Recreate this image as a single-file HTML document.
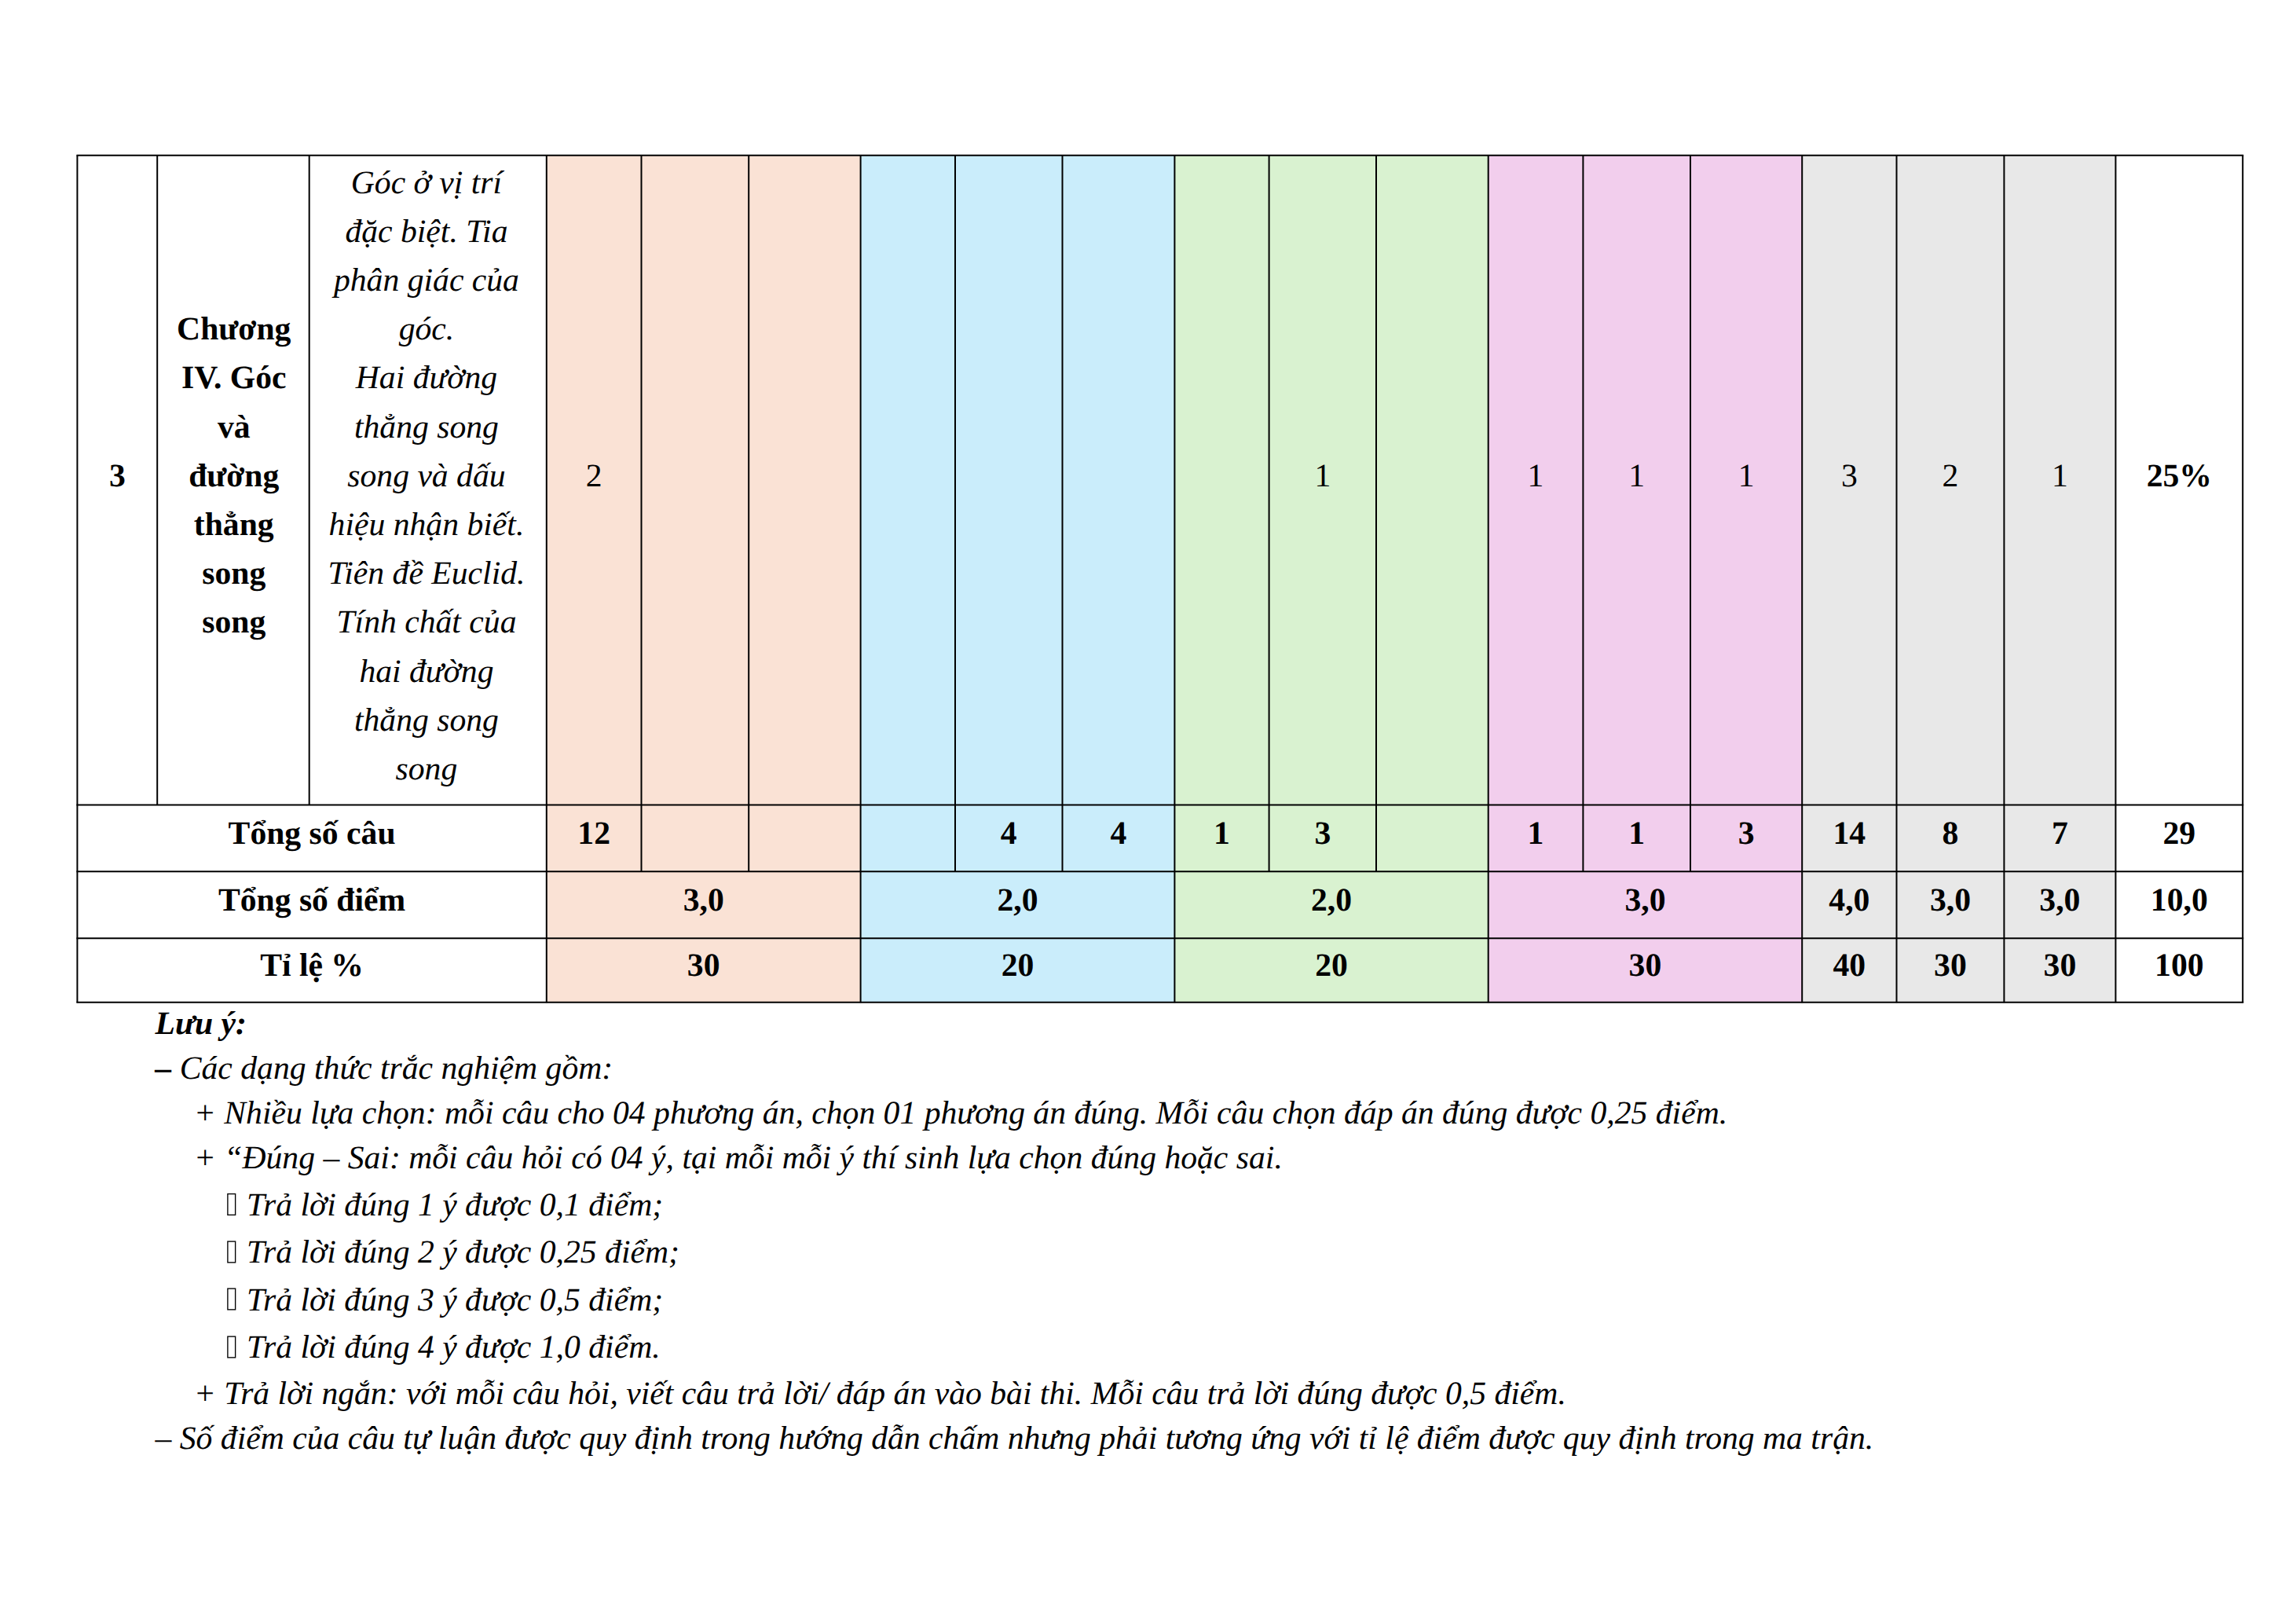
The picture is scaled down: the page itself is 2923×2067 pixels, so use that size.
<!DOCTYPE html>
<html lang="vi"><head><meta charset="utf-8"><title>Ma trận</title>
<style>
html,body{margin:0;padding:0;background:#fff;}
body{width:2923px;height:2067px;position:relative;overflow:hidden;text-rendering:geometricPrecision;font-family:"Liberation Serif",serif;font-size:41.667px;color:#000;}
svg{position:absolute;left:0;top:0;}
.t{position:absolute;white-space:nowrap;margin:0;padding:0;}
.c{text-align:center;}
.b{font-weight:bold;}
.i{font-style:italic;}
</style></head><body>

<svg width="2923" height="2067" viewBox="0 0 2923 2067">
<rect x="695.80" y="197.85" width="399.80" height="1077.90" fill="#FAE2D5"/>
<rect x="1095.60" y="197.85" width="399.80" height="1077.90" fill="#CAEDFB"/>
<rect x="1495.40" y="197.85" width="399.30" height="1077.90" fill="#D9F2D0"/>
<rect x="1894.70" y="197.85" width="399.50" height="1077.90" fill="#F2CEED"/>
<rect x="2294.20" y="197.85" width="399.20" height="1077.90" fill="#E8E8E8"/>
<g stroke="#000" stroke-width="2.00" stroke-linecap="butt" fill="none">
<line x1="97.40" y1="197.85" x2="2856.20" y2="197.85"/>
<line x1="97.40" y1="1024.50" x2="2856.20" y2="1024.50"/>
<line x1="97.40" y1="1109.25" x2="2856.20" y2="1109.25"/>
<line x1="97.40" y1="1194.25" x2="2856.20" y2="1194.25"/>
<line x1="97.40" y1="1275.75" x2="2856.20" y2="1275.75"/>
<line x1="98.40" y1="197.85" x2="98.40" y2="1276.35"/>
<line x1="200.20" y1="197.85" x2="200.20" y2="1025.10"/>
<line x1="393.70" y1="197.85" x2="393.70" y2="1025.10"/>
<line x1="695.80" y1="197.85" x2="695.80" y2="1276.35"/>
<line x1="816.50" y1="197.85" x2="816.50" y2="1109.85"/>
<line x1="953.20" y1="197.85" x2="953.20" y2="1109.85"/>
<line x1="1095.60" y1="197.85" x2="1095.60" y2="1276.35"/>
<line x1="1216.00" y1="197.85" x2="1216.00" y2="1109.85"/>
<line x1="1352.50" y1="197.85" x2="1352.50" y2="1109.85"/>
<line x1="1495.40" y1="197.85" x2="1495.40" y2="1276.35"/>
<line x1="1615.60" y1="197.85" x2="1615.60" y2="1109.85"/>
<line x1="1752.00" y1="197.85" x2="1752.00" y2="1109.85"/>
<line x1="1894.70" y1="197.85" x2="1894.70" y2="1276.35"/>
<line x1="2015.40" y1="197.85" x2="2015.40" y2="1109.85"/>
<line x1="2152.00" y1="197.85" x2="2152.00" y2="1109.85"/>
<line x1="2294.20" y1="197.85" x2="2294.20" y2="1276.35"/>
<line x1="2414.50" y1="197.85" x2="2414.50" y2="1276.35"/>
<line x1="2551.40" y1="197.85" x2="2551.40" y2="1276.35"/>
<line x1="2693.40" y1="197.85" x2="2693.40" y2="1276.35"/>
<line x1="2855.20" y1="197.85" x2="2855.20" y2="1276.35"/>
</g></svg>
<div class="t c b" style="left:98.40px;width:101.80px;top:576.00px;line-height:60px">3</div>
<div class="t c b" style="left:201.00px;width:193.50px;top:389.00px;line-height:60px">Chương</div>
<div class="t c b" style="left:201.00px;width:193.50px;top:451.00px;line-height:60px">IV. Góc</div>
<div class="t c b" style="left:201.00px;width:193.50px;top:514.00px;line-height:60px">và</div>
<div class="t c b" style="left:201.00px;width:193.50px;top:576.00px;line-height:60px">đường</div>
<div class="t c b" style="left:201.00px;width:193.50px;top:638.00px;line-height:60px">thẳng</div>
<div class="t c b" style="left:201.00px;width:193.50px;top:700.00px;line-height:60px">song</div>
<div class="t c b" style="left:201.00px;width:193.50px;top:762.00px;line-height:60px">song</div>
<div class="t c i" style="left:391.90px;width:302.10px;top:203.00px;line-height:60px">Góc ở vị trí</div>
<div class="t c i" style="left:391.90px;width:302.10px;top:265.00px;line-height:60px">đặc biệt. Tia</div>
<div class="t c i" style="left:391.90px;width:302.10px;top:327.00px;line-height:60px">phân giác của</div>
<div class="t c i" style="left:391.90px;width:302.10px;top:389.00px;line-height:60px">góc.</div>
<div class="t c i" style="left:391.90px;width:302.10px;top:451.00px;line-height:60px">Hai đường</div>
<div class="t c i" style="left:391.90px;width:302.10px;top:514.00px;line-height:60px">thẳng song</div>
<div class="t c i" style="left:391.90px;width:302.10px;top:576.00px;line-height:60px">song và dấu</div>
<div class="t c i" style="left:391.90px;width:302.10px;top:638.00px;line-height:60px">hiệu nhận biết.</div>
<div class="t c i" style="left:391.90px;width:302.10px;top:700.00px;line-height:60px">Tiên đề Euclid.</div>
<div class="t c i" style="left:391.90px;width:302.10px;top:762.00px;line-height:60px">Tính chất của</div>
<div class="t c i" style="left:391.90px;width:302.10px;top:825.00px;line-height:60px">hai đường</div>
<div class="t c i" style="left:391.90px;width:302.10px;top:887.00px;line-height:60px">thẳng song</div>
<div class="t c i" style="left:391.90px;width:302.10px;top:949.00px;line-height:60px">song</div>
<div class="t c " style="left:695.80px;width:120.70px;top:576.00px;line-height:60px">2</div>
<div class="t c " style="left:1615.60px;width:136.40px;top:576.00px;line-height:60px">1</div>
<div class="t c " style="left:1894.70px;width:120.70px;top:576.00px;line-height:60px">1</div>
<div class="t c " style="left:2015.40px;width:136.60px;top:576.00px;line-height:60px">1</div>
<div class="t c " style="left:2152.00px;width:142.20px;top:576.00px;line-height:60px">1</div>
<div class="t c " style="left:2294.20px;width:120.30px;top:576.00px;line-height:60px">3</div>
<div class="t c " style="left:2414.50px;width:136.90px;top:576.00px;line-height:60px">2</div>
<div class="t c " style="left:2551.40px;width:142.00px;top:576.00px;line-height:60px">1</div>
<div class="t c b" style="left:2693.40px;width:161.80px;top:576.00px;line-height:60px">25%</div>
<div class="t c b" style="left:98.40px;width:597.40px;top:1031.00px;line-height:60px">Tổng số câu</div>
<div class="t c b" style="left:695.80px;width:120.70px;top:1031.00px;line-height:60px">12</div>
<div class="t c b" style="left:1216.00px;width:136.50px;top:1031.00px;line-height:60px">4</div>
<div class="t c b" style="left:1352.50px;width:142.90px;top:1031.00px;line-height:60px">4</div>
<div class="t c b" style="left:1495.40px;width:120.20px;top:1031.00px;line-height:60px">1</div>
<div class="t c b" style="left:1615.60px;width:136.40px;top:1031.00px;line-height:60px">3</div>
<div class="t c b" style="left:1894.70px;width:120.70px;top:1031.00px;line-height:60px">1</div>
<div class="t c b" style="left:2015.40px;width:136.60px;top:1031.00px;line-height:60px">1</div>
<div class="t c b" style="left:2152.00px;width:142.20px;top:1031.00px;line-height:60px">3</div>
<div class="t c b" style="left:2294.20px;width:120.30px;top:1031.00px;line-height:60px">14</div>
<div class="t c b" style="left:2414.50px;width:136.90px;top:1031.00px;line-height:60px">8</div>
<div class="t c b" style="left:2551.40px;width:142.00px;top:1031.00px;line-height:60px">7</div>
<div class="t c b" style="left:2693.40px;width:161.80px;top:1031.00px;line-height:60px">29</div>
<div class="t c b" style="left:98.40px;width:597.40px;top:1116.00px;line-height:60px">Tổng số điểm</div>
<div class="t c b" style="left:695.80px;width:399.80px;top:1116.00px;line-height:60px">3,0</div>
<div class="t c b" style="left:1095.60px;width:399.80px;top:1116.00px;line-height:60px">2,0</div>
<div class="t c b" style="left:1495.40px;width:399.30px;top:1116.00px;line-height:60px">2,0</div>
<div class="t c b" style="left:1894.70px;width:399.50px;top:1116.00px;line-height:60px">3,0</div>
<div class="t c b" style="left:2294.20px;width:120.30px;top:1116.00px;line-height:60px">4,0</div>
<div class="t c b" style="left:2414.50px;width:136.90px;top:1116.00px;line-height:60px">3,0</div>
<div class="t c b" style="left:2551.40px;width:142.00px;top:1116.00px;line-height:60px">3,0</div>
<div class="t c b" style="left:2693.40px;width:161.80px;top:1116.00px;line-height:60px">10,0</div>
<div class="t c b" style="left:98.40px;width:597.40px;top:1199.00px;line-height:60px">Tỉ lệ %</div>
<div class="t c b" style="left:695.80px;width:399.80px;top:1199.00px;line-height:60px">30</div>
<div class="t c b" style="left:1095.60px;width:399.80px;top:1199.00px;line-height:60px">20</div>
<div class="t c b" style="left:1495.40px;width:399.30px;top:1199.00px;line-height:60px">20</div>
<div class="t c b" style="left:1894.70px;width:399.50px;top:1199.00px;line-height:60px">30</div>
<div class="t c b" style="left:2294.20px;width:120.30px;top:1199.00px;line-height:60px">40</div>
<div class="t c b" style="left:2414.50px;width:136.90px;top:1199.00px;line-height:60px">30</div>
<div class="t c b" style="left:2551.40px;width:142.00px;top:1199.00px;line-height:60px">30</div>
<div class="t c b" style="left:2693.40px;width:161.80px;top:1199.00px;line-height:60px">100</div>
<div class="t i" style="left:197.50px;top:1273.00px;line-height:60px"><span class="b">Lưu ý:</span></div>
<div class="t i" style="left:197.50px;top:1330.00px;line-height:60px"><span class="b">–</span> Các dạng thức trắc nghiệm gồm:</div>
<div class="t i" style="left:246.75px;top:1387.00px;line-height:60px">+ Nhiều lựa chọn: mỗi câu cho 04 phương án, chọn 01 phương án đúng. Mỗi câu chọn đáp án đúng được 0,25 điểm.</div>
<div class="t i" style="left:246.75px;top:1444.00px;line-height:60px">+ “Đúng – Sai: mỗi câu hỏi có 04 ý, tại mỗi mỗi ý thí sinh lựa chọn đúng hoặc sai.</div>
<div class="t i" style="left:314.10px;top:1504.00px;line-height:60px">Trả lời đúng 1 ý được 0,1 điểm;</div>
<div class="t i" style="left:314.10px;top:1564.00px;line-height:60px">Trả lời đúng 2 ý được 0,25 điểm;</div>
<div class="t i" style="left:314.10px;top:1625.00px;line-height:60px">Trả lời đúng 3 ý được 0,5 điểm;</div>
<div class="t i" style="left:314.10px;top:1685.00px;line-height:60px">Trả lời đúng 4 ý được 1,0 điểm.</div>
<div class="t i" style="left:246.75px;top:1744.00px;line-height:60px">+ Trả lời ngắn: với mỗi câu hỏi, viết câu trả lời/ đáp án vào bài thi. Mỗi câu trả lời đúng được 0,5 điểm.</div>
<div class="t i" style="left:197.50px;top:1801.00px;line-height:60px">– Số điểm của câu tự luận được quy định trong hướng dẫn chấm nhưng phải tương ứng với tỉ lệ điểm được quy định trong ma trận.</div>
<svg width="2923" height="2067" viewBox="0 0 2923 2067"><g fill="none" stroke="#000" stroke-width="1.35">
<rect x="289.88" y="1519.60" width="9.75" height="26.75"/>
<rect x="289.88" y="1580.10" width="9.75" height="26.75"/>
<rect x="289.88" y="1640.10" width="9.75" height="26.75"/>
<rect x="289.88" y="1701.10" width="9.75" height="26.75"/>
</g></svg>

</body></html>
